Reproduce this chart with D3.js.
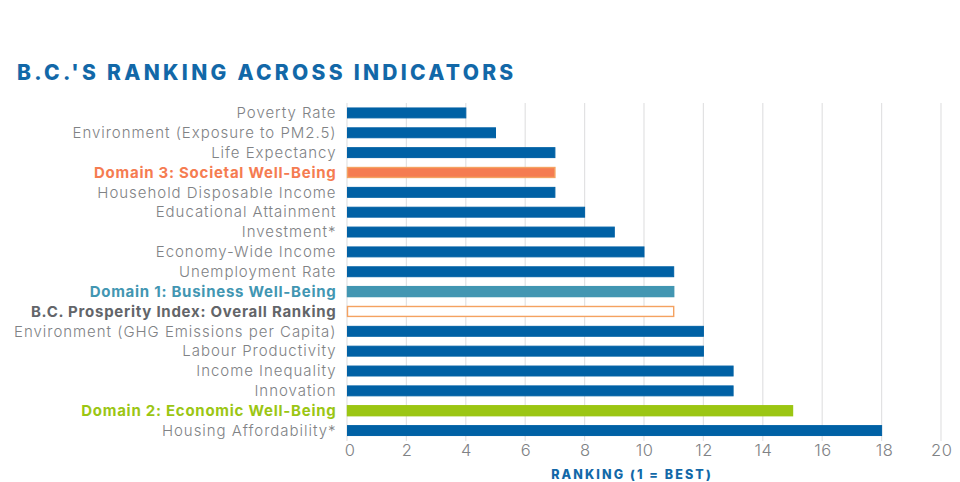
<!DOCTYPE html>
<html><head><meta charset="utf-8">
<script src="https://cdn.jsdelivr.net/npm/d3@7/dist/d3.min.js"></script>
<style>html,body{margin:0;padding:0;background:#fff}svg{display:block}text{font-family:Inter,"Open Sans",sans-serif}</style>
</head><body><svg id="c" width="960" height="482"></svg>
<script>
const categories = ["Poverty Rate","Environment (Exposure to PM2.5)","Life Expectancy","Domain 3: Societal Well-Being","Household Disposable Income","Educational Attainment","Investment*","Economy-Wide Income","Unemployment Rate","Domain 1: Business Well-Being","B.C. Prosperity Index: Overall Ranking","Environment (GHG Emissions per Capita)","Labour Productivity","Income Inequality","Innovation","Domain 2: Economic Well-Being","Housing Affordability*"];
const values = [4,5,7,7,7,8,9,10,11,11,11,12,12,13,13,15,18];
const barFills = ["#0061a5","#0061a5","#0061a5","#f57c51","#0061a5","#0061a5","#0061a5","#0061a5","#0061a5","#4296b2","#ffffff","#0061a5","#0061a5","#0061a5","#0061a5","#9bc613","#0061a5"];
const barStrokes = ["#0061a5","#0061a5","#0061a5","#f4a261","#0061a5","#0061a5","#0061a5","#0061a5","#0061a5","#4296b2","#f4a261","#0061a5","#0061a5","#0061a5","#0061a5","#9bc613","#0061a5"];
const labelColors = ["#808285","#808285","#808285","#f57c51","#808285","#808285","#808285","#808285","#808285","#4296b2","#636569","#808285","#808285","#808285","#808285","#9bc613","#808285"];
const labelBold = [0,0,0,1,0,0,0,0,0,1,1,0,0,0,0,1,0];
const tickValues = [0,2,4,6,8,10,12,14,16,18,20];
const titleText = "B.C.'S RANKING ACROSS INDICATORS";
const axisTitle = "RANKING (1 = BEST)";

const svg = d3.select("#c");
const x = d3.scaleLinear().domain([0,20]).range([347,941]);
const y = d3.scaleBand().domain(categories).range([103,440.5]).paddingInner(0.5).paddingOuter(0.25);

svg.append("text").attr("x",17).attr("y",79.5).attr("fill","#1268a8").attr("font-size",21).attr("font-weight",800).attr("letter-spacing",3.28).text(titleText);

svg.append("g").selectAll("line").data(tickValues).join("line")
  .attr("x1",d=>x(d)).attr("x2",d=>x(d)).attr("y1",103).attr("y2",441)
  .attr("stroke","#e2e2e3").attr("stroke-width",1.2);

svg.append("g").selectAll("rect").data(categories).join("rect")
  .attr("x",x(0)+0.5).attr("y",d=>y(d)).attr("height",y.bandwidth())
  .attr("width",(d,i)=>x(values[i])-x(0)-0.5)
  .attr("fill",(d,i)=>barFills[i]).attr("stroke",(d,i)=>barStrokes[i]).attr("stroke-width",(d,i)=>labelBold[i]?1.4:1);

svg.append("g").selectAll("text").data(categories).join("text")
  .attr("x",336.5).attr("y",d=>y(d)+y.bandwidth()/2+5.3)
  .attr("text-anchor","end").attr("font-size",15)
  .attr("letter-spacing",(d,i)=>labelBold[i]?0.74:0.97)
  .attr("font-weight",(d,i)=>labelBold[i]?700:300)
  .attr("fill",(d,i)=>labelColors[i]).text(d=>d);

svg.append("g").selectAll("text").data(tickValues).join("text")
  .attr("x",d=>x(d)+(d===0||d===18?3:0.7)).attr("y",456).attr("text-anchor","middle")
  .attr("font-size",16.5).attr("letter-spacing",0.5).attr("font-weight",300).attr("fill","#808285").text(d=>d);

svg.append("text").attr("x",632).attr("y",479).attr("text-anchor","middle")
  .attr("fill","#1268a8").attr("font-size",12.5).attr("font-weight",800).attr("letter-spacing",2.1).text(axisTitle);
</script></body></html>
